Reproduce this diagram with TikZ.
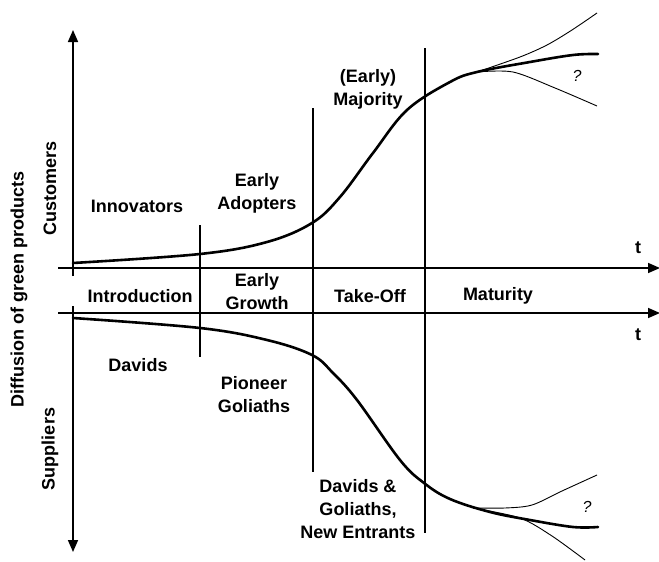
\documentclass[tikz,border=0pt]{standalone}
\usepackage{fontspec}
\setmainfont{Liberation Sans}
\usetikzlibrary{arrows.meta}
\begin{document}
\begin{tikzpicture}[x=1pt,y=-1pt,
  lbl/.style={font=\fontsize{18}{23}\selectfont\bfseries, align=center, inner sep=0pt},
  qm/.style={font=\fontsize{16}{19}\selectfont\itshape, inner sep=0pt},
  axarrow/.style={line width=1.6pt, -{Triangle[length=12pt,width=10pt]}},
  divider/.style={line width=1.4pt},
  main/.style={line width=2.6pt, line cap=round},
  branch/.style={line width=0.9pt}]
\useasboundingbox (0,0) rectangle (659,562);
% coordinates
\coordinate (vtopS) at (73,276);
\coordinate (vtopE) at (73,30);
\coordinate (vbotS) at (73,306);
\coordinate (vbotE) at (73,552);
\coordinate (htopS) at (58,268);
\coordinate (htopE) at (660,268);
\coordinate (hbotS) at (58,313);
\coordinate (hbotE) at (660,313);
\coordinate (d1a) at (200,225); \coordinate (d1b) at (200,357);
\coordinate (d2a) at (313,108); \coordinate (d2b) at (313,472);
\coordinate (d3a) at (425,48);  \coordinate (d3b) at (425,533);
% axes
\draw[axarrow] (vtopS) -- (vtopE);
\draw[axarrow] (vbotS) -- (vbotE);
\draw[axarrow] (htopS) -- (htopE);
\draw[axarrow] (hbotS) -- (hbotE);
% dividers
\draw[divider] (d1a) -- (d1b);
\draw[divider] (d2a) -- (d2b);
\draw[divider] (d3a) -- (d3b);
% customer curve
\draw[main] plot[smooth, tension=0.6] coordinates {(73,263) (200,254) (267,242) (312,223) (340,197) (373,153) (407,110) (450,82) (477,72) (530,62) (573,55) (598,54)};
\draw[branch] plot[smooth, tension=0.5] coordinates {(477,72) (520,57) (547,45) (572,30) (597,13)};
\draw[branch] plot[smooth, tension=0.5] coordinates {(477,72) (513,72) (555,88) (597,106)};
% supplier curve
\draw[main] plot[smooth, tension=0.6] coordinates {(73,318) (200,328) (267,340) (312,355) (333,373) (357,400) (400,460) (424,483) (450,499) (490,512) (530,520) (573,527) (598,527)};
\draw[branch] plot[smooth, tension=0.5] coordinates {(473,508) (505,508) (532,505) (562,491) (597,475)};
\draw[branch] plot[smooth, tension=0.5] coordinates {(473,508) (520,518) (552,536) (585,560)};
% labels
\node[lbl] (innov) at (137,206) {Innovators};
\node[lbl] (adopt) at (257,193) {Early\\Adopters};
\node[lbl] (major) at (368,89) {(Early)\\Majority};
\node[qm] (q1) at (577,76) {?};
\node[lbl] (t1) at (638,248) {t};
\node[lbl] (t2) at (638,335) {t};
\node[lbl] (intro) at (140,296) {Introduction};
\node[lbl] (growth) at (257,292) {Early\\Growth};
\node[lbl] (take) at (370,296) {Take-Off};
\node[lbl] (matur) at (498,296) {Maturity};
\node[lbl] (davids) at (138,365) {Davids};
\node[lbl] (pion) at (254,395) {Pioneer\\Goliaths};
\node[lbl] (newent) at (358,509) {Davids \&\\Goliaths,\\New Entrants};
\node[qm] (q2) at (587,507) {?};
\node[lbl, rotate=90] (cust) at (50,188) {Customers};
\node[lbl, rotate=90] (diff) at (19,289) {Diffusion of green products};
\node[lbl, rotate=90] (supp) at (50,449) {Suppliers};
\end{tikzpicture}
\end{document}
